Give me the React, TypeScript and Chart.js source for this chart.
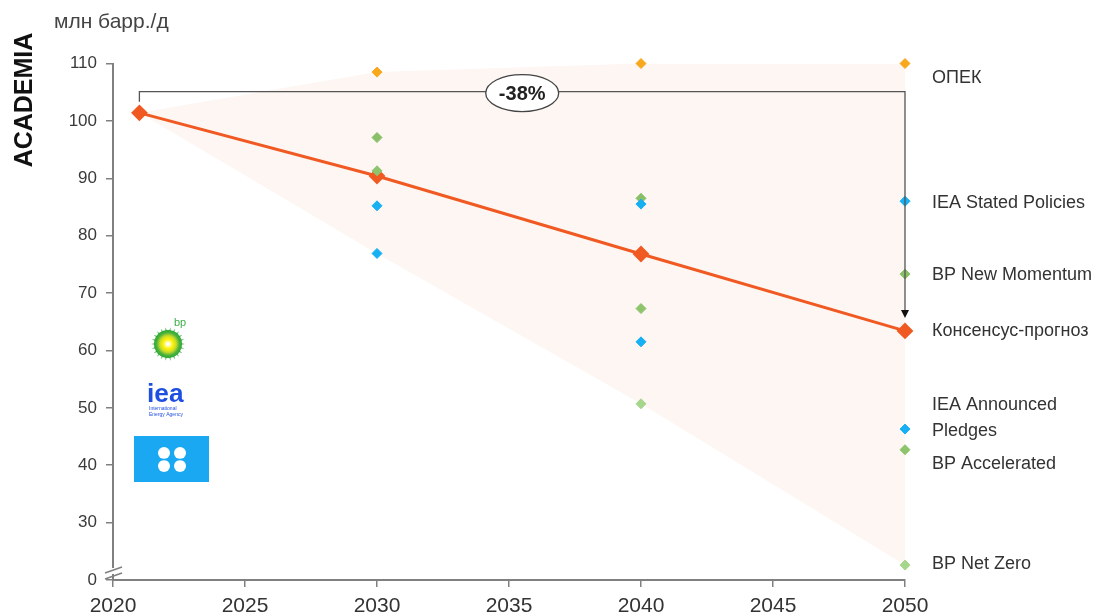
import { useEffect, useRef } from 'react';
import { Chart, registerables } from 'chart.js';

Chart.register(...registerables);

// ---- data ----
const consensusYears = [2021, 2030, 2040, 2050];
const scenarioYears = [2030, 2040, 2050];
const consensus = [101.4, 90.4, 76.8, 63.4];
const opec = [108.5, 110, 110];
const ieaStated = [85.2, 85.5, 86.0];
const ieaAnnounced = [76.9, 61.5, 46.3];
const bpNewMomentum = [97.1, 86.5, 73.3];
const bpAccelerated = [91.3, 67.3, 42.7];
const bpNetZero = [null, 50.7, 22.6];
const fanUpper = [101.4, 108.5, 110, 110];
const fanLower = [101.4, 76.9, 50.7, 22.6];
const yTickValues = [20, 30, 40, 50, 60, 70, 80, 90, 100, 110];
const yTickLabels = ['0', '30', '40', '50', '60', '70', '80', '90', '100', '110'];
const xTickValues = [2020, 2025, 2030, 2035, 2040, 2045, 2050];
const changeLabel = '-38%';
const unitTitle = 'млн барр./д';
const seriesLabels = [
  { lines: ['ОПЕК'], at: 107.5 },
  { lines: ['IEA Stated Policies'], at: 85.7 },
  { lines: ['BP New Momentum'], at: 73.15 },
  { lines: ['Консенсус-прогноз'], at: 63.3 },
  { lines: ['IEA Announced', 'Pledges'], at: 50.5 },
  { lines: ['BP Accelerated'], at: 40.2 },
  { lines: ['BP Net Zero'], at: 22.8 },
];

const FONT = "'Liberation Sans', Arial, sans-serif";
const C_CONS = '#F05A22';
const C_OPEC = '#F8A81C';
const C_BLUE = '#17B0F2';
const C_GREEN1 = '#89BF66';
const C_GREEN2 = '#8DC46C';
const C_GREEN3 = '#A5D68B';
const C_FAN = '#FDF6F3';

const pts = (xs: number[], ys: (number | null)[]) =>
  xs.map((x, i) => ({ x, y: ys[i] })).filter((p) => p.y !== null);

function scatterDs(label: string, xs: number[], ys: (number | null)[], color: string, order: number) {
  return {
    type: 'line' as const,
    label,
    data: pts(xs, ys),
    showLine: false,
    pointStyle: 'rectRot',
    pointRadius: 5,
    pointBorderWidth: 1,
    pointBackgroundColor: color,
    pointBorderColor: color,
    borderColor: color,
    backgroundColor: color,
    clip: false,
    order,
  };
}

const decorPlugin = {
  id: 'decor',
  afterDatasetsDraw(chart: any) {
    const { ctx, scales } = chart;
    const xs = scales.x;
    const ys = scales.y;
    const xl = xs.getPixelForValue(consensusYears[0]);
    const xr = xs.getPixelForValue(consensusYears[consensusYears.length - 1]);
    const yb = ys.getPixelForValue(105.1);
    const yl = ys.getPixelForValue(consensus[0]) - 11;
    const yTip = ys.getPixelForValue(consensus[consensus.length - 1]) - 13;
    ctx.save();
    ctx.strokeStyle = '#555';
    ctx.lineWidth = 1.3;
    ctx.beginPath();
    ctx.moveTo(xl, yl);
    ctx.lineTo(xl, yb);
    ctx.lineTo(xr, yb);
    ctx.lineTo(xr, yTip - 7);
    ctx.stroke();
    ctx.fillStyle = '#111';
    ctx.beginPath();
    ctx.moveTo(xr - 4, yTip - 8);
    ctx.lineTo(xr + 4, yTip - 8);
    ctx.lineTo(xr, yTip);
    ctx.closePath();
    ctx.fill();
    const cx = (xl + xr) / 2;
    ctx.beginPath();
    ctx.ellipse(cx, yb + 1.5, 36.5, 18.5, 0, 0, Math.PI * 2);
    ctx.fillStyle = '#fff';
    ctx.fill();
    ctx.strokeStyle = '#444';
    ctx.stroke();
    ctx.fillStyle = '#222';
    ctx.font = `bold 20px ${FONT}`;
    ctx.textAlign = 'center';
    ctx.textBaseline = 'middle';
    ctx.fillText(changeLabel, cx, yb + 2.5);
    ctx.restore();
  },
  afterDraw(chart: any) {
    const { ctx, chartArea, scales } = chart;
    const ys = scales.y;
    ctx.save();
    // axis break
    const ax = chartArea.left;
    const bt = chartArea.bottom;
    ctx.fillStyle = '#fff';
    ctx.fillRect(ax - 3, bt - 12, 6, 6);
    ctx.strokeStyle = '#808080';
    ctx.lineWidth = 1.5;
    ctx.beginPath();
    ctx.moveTo(ax - 8, bt - 7);
    ctx.lineTo(ax + 9, bt - 13);
    ctx.moveTo(ax - 8, bt - 1);
    ctx.lineTo(ax + 9, bt - 7);
    ctx.stroke();

    // right labels
    ctx.fillStyle = '#333';
    ctx.font = `18px ${FONT}`;
    ctx.textAlign = 'left';
    ctx.textBaseline = 'middle';
    const lx = chartArea.right + 27;
    seriesLabels.forEach((l) => {
      const y0 = ys.getPixelForValue(l.at);
      l.lines.forEach((t, i) => ctx.fillText(t, lx, y0 + i * 26.5));
    });

    // unit title
    ctx.fillStyle = '#444';
    ctx.font = `21px ${FONT}`;
    ctx.textBaseline = 'alphabetic';
    ctx.fillText(unitTitle, 54, 28);

    // ACADEMIA
    ctx.save();
    ctx.translate(32, 100);
    ctx.rotate(-Math.PI / 2);
    ctx.fillStyle = '#111';
    ctx.font = `bold 25px ${FONT}`;
    ctx.textAlign = 'center';
    ctx.textBaseline = 'alphabetic';
    ctx.fillText('ACADEMIA', 0, 0);
    ctx.restore();

    // bp logo
    const bx = 168, by = 344;
    ctx.fillStyle = '#2DA836';
    for (let i = 0; i < 22; i++) {
      const a = (i / 22) * Math.PI * 2;
      ctx.beginPath();
      ctx.moveTo(bx + Math.cos(a - 0.13) * 10, by + Math.sin(a - 0.13) * 10);
      ctx.lineTo(bx + Math.cos(a) * 17, by + Math.sin(a) * 17);
      ctx.lineTo(bx + Math.cos(a + 0.13) * 10, by + Math.sin(a + 0.13) * 10);
      ctx.closePath();
      ctx.fill();
    }
    const g = ctx.createRadialGradient(bx, by, 1, bx, by, 14);
    g.addColorStop(0, '#FFFFFF');
    g.addColorStop(0.3, '#FFF200');
    g.addColorStop(0.55, '#C8DC2A');
    g.addColorStop(0.8, '#4DB23A');
    g.addColorStop(1, '#2DA836');
    ctx.fillStyle = g;
    ctx.beginPath();
    ctx.arc(bx, by, 14, 0, Math.PI * 2);
    ctx.fill();
    ctx.fillStyle = '#3DAE49';
    ctx.font = `11px ${FONT}`;
    ctx.textAlign = 'left';
    ctx.fillText('bp', 174, 326);

    // iea logo
    ctx.fillStyle = '#1F4FE0';
    ctx.font = `bold 25px ${FONT}`;
    ctx.textAlign = 'left';
    ctx.textBaseline = 'alphabetic';
    ctx.save();
    ctx.translate(147, 402);
    ctx.scale(1.05, 1);
    ctx.fillText('iea', 0, 0);
    ctx.restore();
    ctx.font = `5px ${FONT}`;
    ctx.fillText('International', 149, 410);
    ctx.fillText('Energy Agency', 149, 416);

    // opec logo
    ctx.fillStyle = '#1AA8F3';
    ctx.fillRect(134, 436, 75, 46);
    ctx.fillStyle = '#fff';
    [[164, 453], [180, 453], [164, 466], [180, 466]].forEach(([px, py]) => {
      ctx.beginPath();
      ctx.arc(px, py, 6, 0, Math.PI * 2);
      ctx.fill();
    });
    ctx.strokeStyle = '#1AA8F3';
    ctx.lineWidth = 1.5;
    ctx.beginPath();
    ctx.moveTo(172, 445);
    ctx.lineTo(172, 474);
    ctx.moveTo(158, 459.5);
    ctx.lineTo(186, 459.5);
    ctx.stroke();
    ctx.restore();
  },
};

export default function App() {
  const ref = useRef<HTMLCanvasElement>(null);
  useEffect(() => {
    if (!ref.current) return;
    const chart = new Chart(ref.current, {
      type: 'line',
      data: {
        datasets: [
          {
            label: 'Консенсус-прогноз',
            data: pts(consensusYears, consensus),
            borderColor: C_CONS,
            backgroundColor: C_CONS,
            borderWidth: 3,
            pointStyle: 'rectRot',
            pointRadius: 7,
            pointBorderWidth: 2,
            pointBackgroundColor: C_CONS,
            pointBorderColor: C_CONS,
            tension: 0,
            clip: false,
            order: 10,
          } as any,
          scatterDs('BP Net Zero', scenarioYears, bpNetZero, C_GREEN3, 9),
          scatterDs('BP Accelerated', scenarioYears, bpAccelerated, C_GREEN2, 8),
          scatterDs('BP New Momentum', scenarioYears, bpNewMomentum, C_GREEN1, 7),
          scatterDs('ОПЕК', scenarioYears, opec, C_OPEC, 6),
          scatterDs('IEA Announced Pledges', scenarioYears, ieaAnnounced, C_BLUE, 5),
          scatterDs('IEA Stated Policies', scenarioYears, ieaStated, C_BLUE, 4),
          {
            label: 'fanUpper',
            data: pts(consensusYears, fanUpper),
            borderWidth: 0,
            borderColor: 'rgba(0,0,0,0)',
            pointRadius: 0,
            fill: false,
            order: 20,
          } as any,
          {
            label: 'fanLower',
            data: pts(consensusYears, fanLower),
            borderWidth: 0,
            borderColor: 'rgba(0,0,0,0)',
            backgroundColor: C_FAN,
            pointRadius: 0,
            fill: '-1',
            order: 21,
          } as any,
        ],
      },
      options: {
        responsive: false,
        animation: false,
        events: [],
        layout: { padding: { left: 53, right: 194, top: 63.5, bottom: 0 } },
        plugins: { legend: { display: false }, tooltip: { enabled: false } },
        scales: {
          x: {
            type: 'linear',
            min: 2020,
            max: 2050,
            afterFit: (s: any) => {
              s.height = 34;
            },
            afterBuildTicks: (s: any) => {
              s.ticks = xTickValues.map((v) => ({ value: v }));
            },
            border: { display: true, color: '#808080', width: 2 },
            grid: { drawOnChartArea: false, drawTicks: true, tickLength: 7, color: '#808080', lineWidth: 1.5 },
            ticks: {
              color: '#333',
              font: { family: FONT, size: 21 },
              padding: 7,
              maxRotation: 0,
              callback: (v: any) => String(v),
            },
          },
          y: {
            type: 'linear',
            min: 20,
            max: 110,
            afterFit: (s: any) => {
              s.width = 60;
            },
            afterBuildTicks: (s: any) => {
              s.ticks = yTickValues.map((v) => ({ value: v }));
            },
            border: { display: true, color: '#808080', width: 2 },
            grid: { drawOnChartArea: false, drawTicks: true, tickLength: 7, color: '#808080', lineWidth: 1.5 },
            ticks: {
              color: '#3a3a3a',
              font: { family: FONT, size: 17 },
              padding: 9,
              callback: (v: any) => {
                const i = yTickValues.indexOf(Number(v));
                return i >= 0 ? yTickLabels[i] : '';
              },
            },
          },
        },
      },
      plugins: [decorPlugin],
    });
    return () => chart.destroy();
  }, []);
  return (
    <div style={{ position: 'absolute', left: 0, top: 0, width: 1099, height: 614, background: '#fff' }}>
      <canvas ref={ref} width={1099} height={614} />
    </div>
  );
}
